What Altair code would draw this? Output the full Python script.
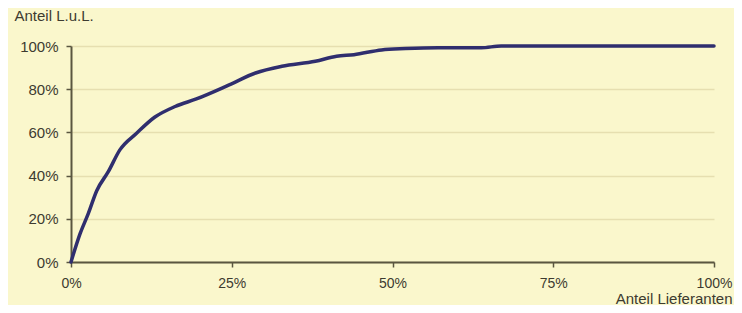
import altair as alt
import pandas as pd

# Cumulative share of suppliers (x) vs. cumulative share of L.u.L. (y), in percent
anteil_lieferanten = [0, 1.4, 2.7, 4.0, 5.8, 7.6, 10.2, 13.0, 16.2, 19.5, 24.6, 28.7,
                      32.8, 38.0, 41.3, 44.0, 48.3, 52.0, 57.1, 63.8, 66.9, 100]
anteil_lul = [0, 13, 22.5, 33, 41.8, 51.9, 59.6, 67.0, 72.0, 75.5, 82.0, 87.5,
              90.6, 92.9, 95.3, 96.0, 98.2, 98.8, 99.2, 99.2, 100, 100]

x_ticks = [0, 0.25, 0.5, 0.75, 1.0]
y_ticks = [0, 0.2, 0.4, 0.6, 0.8, 1.0]

df = pd.DataFrame({
    "x": [v / 100 for v in anteil_lieferanten],
    "y": [v / 100 for v in anteil_lul],
})

BG = "#FAF7CC"
TXT = "#3d3b30"
AX = "#5a5640"
FONT = "Liberation Sans"

chart = alt.Chart(df).mark_line(color="#2F2E6E", strokeWidth=3.5, strokeCap="round",
                                strokeJoin="round", interpolate="monotone").encode(
    x=alt.X("x:Q", scale=alt.Scale(domain=[0, 1], nice=False),
            axis=alt.Axis(values=x_ticks, format=".0%", grid=False, labelFlush=False,
                          title="Anteil Lieferanten", titleAnchor="start",
                          titleX=661, titleY=36, titleAlign="right", titleBaseline="middle",
                          titleFont=FONT, titleFontSize=15, titleFontWeight="normal", titleColor=TXT,
                          labelFont=FONT, labelFontSize=14, labelColor=TXT, labelPadding=9,
                          tickSize=5, tickColor=AX, tickWidth=1.5,
                          domainColor=AX, domainWidth=2)),
    y=alt.Y("y:Q", scale=alt.Scale(domain=[0, 1], nice=False),
            axis=alt.Axis(values=y_ticks, format=".0%", grid=True,
                          gridColor="#E6DFB0", gridWidth=1.5,
                          title="Anteil L.u.L.", titleAngle=0, titleX=-57, titleY=-31,
                          titleAlign="left", titleBaseline="middle",
                          titleFont=FONT, titleFontSize=15, titleFontWeight="normal", titleColor=TXT,
                          labelFont=FONT, labelFontSize=15, labelColor=TXT, labelPadding=8,
                          tickSize=5, tickColor=AX, tickWidth=1.5,
                          domainColor=AX, domainWidth=2)),
).properties(
    width=643, height=216,
    autosize=alt.AutoSizeParams(type="none"),
    padding={"left": 63, "top": 38, "right": 20, "bottom": 43},
    background=BG,
).configure_view(stroke=None, fill=BG)

chart.save("out.html", embed_options={"renderer": "svg", "actions": False})
